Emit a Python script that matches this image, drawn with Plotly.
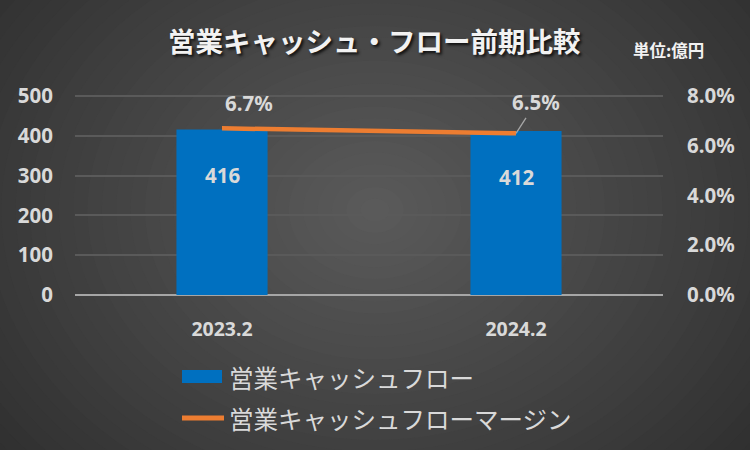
import plotly.graph_objects as go

categories = ["2023.2", "2024.2"]
cash_flow = [416, 412]
margin_pct = [0.067, 0.065]
bar_name = "営業キャッシュフロー"
line_name = "営業キャッシュフローマージン"
title_text = "営業キャッシュ・フロー前期比較"
unit_text = "単位:億円"
left_ticks = [0, 100, 200, 300, 400, 500]
right_ticks = [0.0, 0.02, 0.04, 0.06, 0.08]

W, H = 750, 450
ML, MR, MT, MB = 75, 87, 91, 155
PW, PH = W - ML - MR, H - MT - MB
Y_TOP = 512.5          # left axis top; 500 sits ~4px below plot top
Y2_TOP = 0.08 * Y_TOP / 500

NUM_FONT = "Noto Sans"
JP_FONT = "Noto Sans CJK JP"
TXT = "#d9d9d9"
NUM_SIZE = 20.5

fig = go.Figure()
fig.add_trace(go.Bar(
    x=categories, y=cash_flow, name=bar_name, marker=dict(color="#0070C0", line=dict(width=0)),
    width=0.31, yaxis="y", showlegend=False,
))
fig.add_trace(go.Scatter(
    x=categories, y=margin_pct, name=line_name, mode="lines",
    line=dict(color="#ED7D31", width=4.5), yaxis="y2", showlegend=False,
))

def px_to_paper_x(px):
    return (px - ML) / PW

def px_to_paper_y(py):
    return (H - MB - py) / PH

# background radial gradient
shapes = []
cx, cy = 375, 210
N = 40
R = 460
c_out, c_in = 40, 90
for i in range(N):
    r = R * (1 - i / N)
    t = i / (N - 1)
    g = int(round(c_out + (c_in - c_out) * t))
    shapes.append(dict(
        type="circle", xref="paper", yref="paper", layer="below",
        x0=px_to_paper_x(cx - r * 1.25), x1=px_to_paper_x(cx + r * 1.25),
        y0=px_to_paper_y(cy + r), y1=px_to_paper_y(cy - r),
        fillcolor=f"rgb({g},{g},{g})", line=dict(width=0),
    ))

# custom legend
leg_x0 = 182
shapes.append(dict(type="rect", xref="paper", yref="paper",
                   x0=px_to_paper_x(leg_x0), x1=px_to_paper_x(leg_x0 + 40),
                   y0=px_to_paper_y(383), y1=px_to_paper_y(370),
                   fillcolor="#0070C0", line=dict(width=0)))
shapes.append(dict(type="line", xref="paper", yref="paper",
                   x0=px_to_paper_x(leg_x0), x1=px_to_paper_x(leg_x0 + 42),
                   y0=px_to_paper_y(418), y1=px_to_paper_y(418),
                   line=dict(color="#ED7D31", width=5)))

annotations = []
annotations.append(dict(text=title_text, xref="paper", yref="paper",
                        x=px_to_paper_x(374), y=px_to_paper_y(40), showarrow=False,
                        font=dict(family=JP_FONT, size=27.5, color="#f2f2f2", weight="bold",
                                  shadow="2px 2px 3px rgba(0,0,0,0.8)"),
                        xanchor="center", yanchor="middle"))
annotations.append(dict(text=unit_text, xref="paper", yref="paper",
                        x=px_to_paper_x(706), y=px_to_paper_y(50), showarrow=False,
                        font=dict(family=JP_FONT, size=16.5, color="#f2f2f2", weight="bold"),
                        xanchor="right", yanchor="middle"))
annotations.append(dict(text=bar_name, xref="paper", yref="paper",
                        x=px_to_paper_x(227), y=px_to_paper_y(377), showarrow=False,
                        font=dict(family=JP_FONT, size=24.5, color=TXT),
                        xanchor="left", yanchor="middle"))
annotations.append(dict(text=line_name, xref="paper", yref="paper",
                        x=px_to_paper_x(227), y=px_to_paper_y(418), showarrow=False,
                        font=dict(family=JP_FONT, size=24.5, color=TXT),
                        xanchor="left", yanchor="middle"))

# bar value labels (x as category index)
for i, v in enumerate(cash_flow):
    annotations.append(dict(text=f"{v}", x=i, y=v, xref="x", yref="y", showarrow=False,
                            yshift=-46, font=dict(family=NUM_FONT, size=NUM_SIZE, color=TXT, weight="bold"),
                            xanchor="center", yanchor="middle"))

# line value labels
annotations.append(dict(text=f"{margin_pct[0]*100:.1f}%", x=0, y=margin_pct[0],
                        xref="x", yref="y2", showarrow=False, xshift=27, yshift=25,
                        font=dict(family=NUM_FONT, size=NUM_SIZE, color=TXT, weight="bold"),
                        xanchor="center", yanchor="middle"))
annotations.append(dict(text=f"{margin_pct[1]*100:.1f}%", x=1, y=margin_pct[1],
                        xref="x", yref="y2", showarrow=True, ax=20, ay=-31,
                        arrowhead=0, arrowwidth=1.3, arrowcolor="#a6a6a6", standoff=0,
                        font=dict(family=NUM_FONT, size=NUM_SIZE, color=TXT, weight="bold"),
                        xanchor="center", yanchor="middle"))

fig.update_layout(
    width=W, height=H,
    margin=dict(l=ML, r=MR, t=MT, b=MB, pad=0),
    paper_bgcolor="#2a2a2a", plot_bgcolor="rgba(0,0,0,0)",
    shapes=shapes, annotations=annotations,
    showlegend=False,
    xaxis=dict(type="category", range=[-0.5, 1.5], showgrid=False, zeroline=False, showline=False,
               tickfont=dict(family=NUM_FONT, size=NUM_SIZE - 1, color=TXT, weight="bold"),
               ticks="", ticklabelstandoff=20),
    yaxis=dict(range=[0, Y_TOP], tickvals=left_ticks, showgrid=True, gridcolor="#5a5a5a",
               gridwidth=1.5, zeroline=True, zerolinecolor="#a6a6a6", zerolinewidth=2,
               showline=False, ticks="", ticklabelstandoff=21,
               tickfont=dict(family=NUM_FONT, size=NUM_SIZE, color=TXT, weight="bold")),
    yaxis2=dict(range=[0, Y2_TOP], tickvals=right_ticks, tickformat=".1%", overlaying="y",
                side="right", showgrid=False, zeroline=False, showline=False, ticks="",
                ticklabelstandoff=23,
                tickfont=dict(family=NUM_FONT, size=NUM_SIZE, color=TXT, weight="bold")),
)

fig.write_html("out.html")
